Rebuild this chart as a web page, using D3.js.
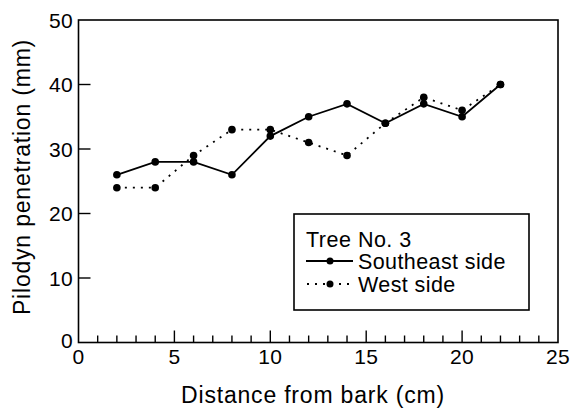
<!DOCTYPE html>
<html><head><meta charset="utf-8">
<script src="https://cdn.jsdelivr.net/npm/d3@7"></script>
<style>body{margin:0;background:#fff}svg{display:block}text{font-family:"Liberation Sans",Arial,sans-serif;fill:#000}</style>
</head><body>
<svg id="c" width="571" height="409"></svg>
<script>
const distance = [2, 4, 6, 8, 10, 12, 14, 16, 18, 20, 22];
const southeast = [26, 28, 28, 26, 32, 35, 37, 34, 37, 35, 40];
const west = [24, 24, 29, 33, 33, 31, 29, 34, 38, 36, 40];
const xTicks = [0, 5, 10, 15, 20, 25];
const yTicks = [0, 10, 20, 30, 40, 50];
const legendTitle = "Tree No. 3";
const seriesNames = ["Southeast side", "West side"];

const svg = d3.select("#c");
const m = {l: 78.5, r: 558, t: 20, b: 342.5};
const x = d3.scaleLinear().domain([0, 25]).range([m.l, m.r]);
const y = d3.scaleLinear().domain([0, 50]).range([m.b, m.t]);

// frame
svg.append("rect").attr("x", m.l).attr("y", m.t).attr("width", m.r - m.l).attr("height", m.b - m.t)
  .attr("fill", "none").attr("stroke", "#000").attr("stroke-width", 1.6);

// x ticks (inward)
const gx = svg.append("g");
d3.range(1, 25).forEach(v => {
  const major = v % 5 === 0;
  gx.append("line").attr("x1", x(v)).attr("x2", x(v)).attr("y1", m.b).attr("y2", m.b - (major ? 12 : 7))
    .attr("stroke", "#000").attr("stroke-width", 1.4);
});
xTicks.forEach(v => {
  gx.append("text").attr("x", x(v)).attr("y", m.b + 21).attr("text-anchor", "middle")
    .attr("font-size", 21).attr("letter-spacing", 0.3).text(v);
});
// y ticks
yTicks.forEach(v => {
  if (v > 0 && v < 50) svg.append("line").attr("x1", m.l).attr("x2", m.l + 12).attr("y1", y(v)).attr("y2", y(v))
    .attr("stroke", "#000").attr("stroke-width", 1.4);
  svg.append("text").attr("x", 73).attr("y", y(v) + (v === 0 ? 5 : 7.5)).attr("text-anchor", "end")
    .attr("font-size", 21).attr("letter-spacing", 0.3).text(v);
});

// titles
svg.append("text").attr("x", 313).attr("y", 403).attr("text-anchor", "middle").attr("font-size", 23)
  .attr("letter-spacing", 0.8).text("Distance from bark (cm)");
svg.append("text").attr("transform", "translate(30,177) rotate(-90)").attr("text-anchor", "middle")
  .attr("font-size", 23).attr("letter-spacing", 0.8).text("Pilodyn penetration (mm)");

const line = d3.line().x(d => x(d[0])).y(d => y(d[1]));
const seData = distance.map((d, i) => [d, southeast[i]]);
const wData = distance.map((d, i) => [d, west[i]]);

svg.append("path").datum(wData).attr("d", line).attr("fill", "none").attr("stroke", "#000")
  .attr("stroke-width", 1.8).attr("stroke-dasharray", "2,6");
svg.append("path").datum(seData).attr("d", line).attr("fill", "none").attr("stroke", "#000")
  .attr("stroke-width", 1.8);
[wData, seData].forEach(data => {
  svg.append("g").selectAll("circle").data(data).join("circle")
    .attr("cx", d => x(d[0])).attr("cy", d => y(d[1])).attr("r", 3.8).attr("fill", "#000");
});

// legend
const lg = svg.append("g");
lg.append("rect").attr("x", 294).attr("y", 214).attr("width", 235).attr("height", 96)
  .attr("fill", "#fff").attr("stroke", "#000").attr("stroke-width", 1.6);
lg.append("text").attr("x", 306).attr("y", 246.5).attr("font-size", 21.5).attr("letter-spacing", 0.5).text(legendTitle);
lg.append("line").attr("x1", 306).attr("x2", 353).attr("y1", 261).attr("y2", 261).attr("stroke", "#000").attr("stroke-width", 1.8);
lg.append("circle").attr("cx", 330).attr("cy", 261).attr("r", 3.5).attr("fill", "#000");
lg.append("text").attr("x", 358).attr("y", 268.5).attr("font-size", 21.5).attr("letter-spacing", 0.4).text(seriesNames[0]);
lg.append("line").attr("x1", 306).attr("x2", 353).attr("y1", 284).attr("y2", 284).attr("stroke", "#000")
  .attr("stroke-width", 1.8).attr("stroke-dasharray", "2,6").attr("stroke-dashoffset", -1);
lg.append("circle").attr("cx", 330).attr("cy", 284).attr("r", 3.5).attr("fill", "#000");
lg.append("text").attr("x", 358).attr("y", 291.5).attr("font-size", 21.5).attr("letter-spacing", 0.4).text(seriesNames[1]);
</script>
</body></html>
